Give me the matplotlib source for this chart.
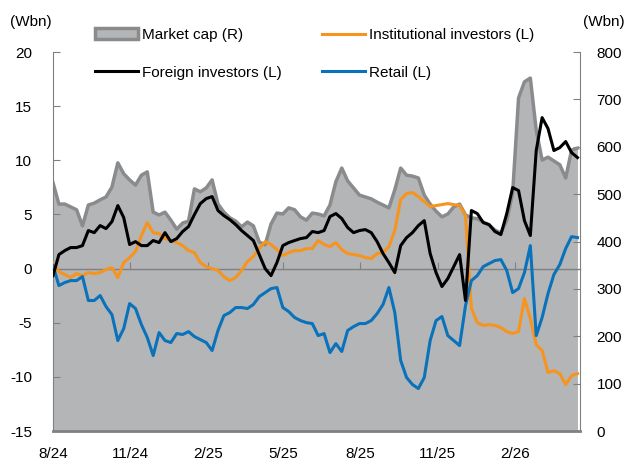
import numpy as np
import pandas as pd
import matplotlib
matplotlib.use('Agg')
import matplotlib.pyplot as plt
from matplotlib.patches import Patch
from matplotlib.lines import Line2D

dates = pd.date_range('2024-08-01', periods=90, freq='7D')

market_cap = [524, 479, 479, 473, 467, 433, 477, 481, 488, 494,
              515, 566, 543, 530, 519, 540, 547, 462, 456, 462,
              445, 426, 439, 443, 511, 505, 513, 530, 479, 462,
              450, 443, 431, 441, 433, 399, 393, 437, 460, 458,
              471, 467, 452, 445, 460, 458, 454, 477, 526, 555,
              528, 513, 498, 494, 490, 483, 477, 471, 509, 555,
              540, 538, 534, 498, 479, 464, 452, 458, 473, 479,
              456, 450, 448, 441, 435, 424, 418, 445, 502, 703,
              737, 745, 635, 572, 578, 570, 562, 534, 593, 597]

foreign = [-0.65, 1.29, 1.66, 1.94, 1.94, 2.12, 3.51, 3.32, 3.97, 3.69,
           4.34, 5.82, 4.71, 2.22, 2.49, 2.12, 2.12, 2.59, 2.40, 3.32,
           2.49, 2.77, 3.42, 3.88, 4.99, 6.00, 6.46, 6.65, 5.36, 4.89,
           4.52, 4.06, 3.51, 3.05, 2.59, 1.29, 0.00, -0.65, 0.55, 2.12,
           2.40, 2.59, 2.77, 2.86, 3.42, 3.32, 3.51, 4.80, 5.08, 4.62,
           3.79, 3.32, 3.51, 3.60, 3.32, 2.49, 1.39, 0.55, -0.37, 2.12,
           2.86, 3.32, 3.97, 4.43, 1.39, -0.37, -1.66, -0.92, 0.18, 1.29,
           -2.95, 5.36, 5.08, 4.25, 4.06, 3.42, 3.14, 5.08, 7.48, 7.20,
           4.43, 3.05, 10.9, 13.94, 12.93, 10.9, 11.17, 11.73, 10.71, 10.25]

institutional = [0.46, -0.28, -0.55, -0.83, -0.46, -0.65, -0.37, -0.46, -0.37, -0.09,
                 0.09, -0.83, 0.55, 1.02, 1.57, 3.05, 4.25, 3.32, 3.23, 2.77,
                 2.59, 2.40, 2.12, 1.66, 1.48, 0.55, 0.18, 0.00, -0.18, -0.74,
                 -1.11, -0.83, -0.18, 0.65, 1.11, 1.85, 2.49, 2.22, 1.75, 1.20,
                 1.48, 1.66, 1.66, 1.85, 1.85, 2.59, 2.22, 2.03, 2.40, 1.75,
                 1.39, 1.29, 1.20, 1.02, 0.92, 1.39, 1.48, 2.03, 3.51, 6.37,
                 6.93, 7.02, 6.65, 6.19, 5.72, 5.82, 5.91, 6.00, 5.91, 5.82,
                 4.89, -3.69, -4.99, -5.26, -5.17, -5.26, -5.45, -5.82, -6.00, -5.82,
                 -2.77, -4.62, -7.02, -7.57, -9.60, -9.42, -9.70, -10.71, -9.88, -9.70]

retail = [0.28, -1.57, -1.29, -1.11, -1.11, -0.74, -2.95, -2.95, -2.49, -3.51,
          -4.25, -6.65, -5.54, -3.23, -3.69, -5.17, -6.37, -8.03, -5.91, -6.65,
          -6.83, -6.00, -6.09, -5.82, -6.28, -6.56, -6.83, -7.57, -5.72, -4.34,
          -4.06, -3.60, -3.60, -3.69, -3.32, -2.59, -2.22, -1.85, -1.75, -3.60,
          -3.97, -4.52, -4.80, -4.99, -5.08, -6.19, -6.00, -7.76, -6.93, -7.66,
          -5.72, -5.36, -5.08, -5.08, -4.80, -4.16, -3.32, -1.75, -4.06, -8.49,
          -10.06, -10.71, -11.08, -10.06, -6.65, -4.80, -4.43, -6.19, -6.65, -7.11,
          -3.42, -1.11, -0.65, 0.18, 0.46, 0.74, 0.83, -0.18, -2.22, -1.85,
          -0.37, 2.12, -6.19, -4.52, -2.31, -0.55, 0.37, 1.85, 2.95, 2.86]

tick_dates = pd.to_datetime(['2024-08-01', '2024-11-01', '2025-02-01', '2025-05-01',
                             '2025-08-01', '2025-11-01', '2026-02-01'])
tick_labels = ['8/24', '11/24', '2/25', '5/25', '8/25', '11/25', '2/26']

fill_c = '#b4b5b7'
edge_c = '#8a8b8d'
axis_c = '#808080'
orange = '#f7941d'
blue = '#0a72ba'

plt.rcParams['font.family'] = ['Liberation Sans', 'DejaVu Sans']
plt.rcParams['font.size'] = 11
plt.rcParams['axes.unicode_minus'] = False

fig = plt.figure(figsize=(6.3, 4.61), dpi=100)
ax = fig.add_axes([53/630, 30/461, 527/630, 379/461])
ax2 = ax.twinx()
ax.set_zorder(ax2.get_zorder() + 1)
ax.patch.set_visible(False)

# market cap area on the right axis
ax2.fill_between(dates, market_cap, 0, color=fill_c, lw=0)
ax2.plot(dates, market_cap, color=edge_c, lw=2.5)
ax2.set_ylim(0, 800)
ax2.set_yticks(range(0, 801, 100))

ax.plot(dates, institutional, color=orange, lw=2.2, zorder=3)
ax.plot(dates, retail, color=blue, lw=2.2, zorder=3)
ax.plot(dates, foreign, color='black', lw=2.2, zorder=4)
ax.set_ylim(-15, 20)
ax.set_yticks(range(-15, 21, 5))
ax.set_xlim(pd.Timestamp('2024-08-01'), pd.Timestamp('2026-04-19'))
ax.set_xticks(tick_dates)
ax.set_xticklabels(tick_labels)

# zero line carries the x ticks, labels sit below the frame
ax.spines['top'].set_position(('data', 0))
ax.spines['top'].set_color(axis_c)
ax.spines['top'].set_linewidth(1)
ax.spines['top'].set_zorder(2)
ax.tick_params(axis='x', bottom=False, top=True, labelbottom=True, labeltop=False,
               direction='out', length=5, color=axis_c, pad=6.5)
ax.spines['bottom'].set_color(axis_c)
ax.spines['bottom'].set_linewidth(2)
ax.spines['left'].set_color(axis_c)
ax.spines['right'].set_visible(False)
ax.tick_params(axis='y', direction='in', length=5, color=axis_c, pad=15)

for s in ['top', 'bottom', 'left']:
    ax2.spines[s].set_visible(False)
ax2.spines['right'].set_color(axis_c)
ax2.tick_params(axis='y', direction='in', length=5, color=axis_c, pad=12)

fig.text(10/630, 1 - 22/461, '(Wbn)', ha='left', va='center')
fig.text(583/630, 1 - 22/461, '(Wbn)', ha='left', va='center')

handles = [Patch(facecolor=fill_c, edgecolor=edge_c, lw=2.5),
           Line2D([], [], color='black', lw=2.2),
           Line2D([], [], color=orange, lw=2.2),
           Line2D([], [], color=blue, lw=2.2)]
labels = ['Market cap (R)', 'Foreign investors (L)', 'Institutional investors (L)', 'Retail (L)']
fig.legend(handles, labels, ncol=2, loc='upper left', bbox_to_anchor=(95/630, 1 - 28/461),
           frameon=False, borderpad=0, borderaxespad=0, handlelength=2.8,
           handletextpad=0.3, columnspacing=2.6, labelspacing=1.55)

fig.savefig('out.png', dpi=100)
